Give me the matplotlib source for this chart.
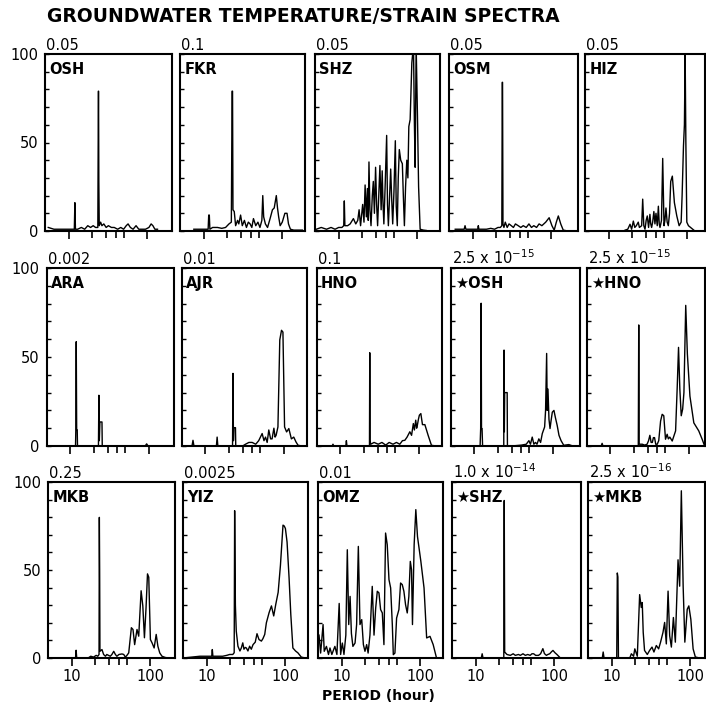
import matplotlib
matplotlib.use("Agg")
import matplotlib.pyplot as plt
from matplotlib.ticker import FixedLocator, NullFormatter

# ---- spectra: (period [h], relative amplitude) ----
osh = [(5.5, 2), (6.5, 1), (8, 1), (9.5, 1), (11, 1), (11.8, 1), (12.0, 16), (12.2, 1),
       (13, 1), (14.5, 2), (16, 1), (17.5, 3), (19, 2), (20.5, 3), (22, 2), (23.5, 2),
       (23.9, 79), (24.0, 79), (24.2, 28), (24.5, 3), (25.5, 5), (26.5, 3), (28, 4),
       (30, 2), (32, 3), (35, 2), (38, 2), (42, 1), (46, 2), (50, 1), (54, 3), (57, 4),
       (61, 2), (66, 1), (72, 3), (78, 1), (85, 1), (95, 1), (105, 2), (112, 4),
       (118, 3), (125, 1), (135, 1)]
fkr = [(7.5, 1), (9, 1), (10.5, 1), (11.4, 1), (11.6, 9), (11.8, 9), (12, 1), (13, 2),
       (15, 2), (17, 1.5), (19, 2), (21, 4), (22.5, 5), (23, 79), (23.3, 79), (23.6, 12),
       (24.5, 11), (25.5, 3), (27, 6), (28, 4), (29.5, 9), (31, 3), (33, 6), (35, 2),
       (37, 5), (39, 4), (41, 2), (43, 7), (46, 3), (49, 5), (52, 2), (55, 6), (56.5, 20),
       (58, 8), (61, 4), (65, 2), (70, 7), (75, 12), (79, 13), (84, 20), (87, 13),
       (90, 8), (94, 3), (100, 5), (108, 10), (115, 10), (120, 4), (127, 1), (140, 0.5),
       (180, 0.5)]
shz = [(5.2, 1), (6, 2), (7, 1), (8, 2), (9, 1), (10, 2), (11, 2), (11.6, 3), (11.8, 17),
       (12.0, 3), (13, 3), (14, 4), (15.4, 7), (16.5, 4), (17.5, 6), (18.2, 12), (19, 3),
       (20.2, 15), (21, 5), (21.7, 26), (22.5, 8), (23.2, 24), (23.8, 6), (24.3, 39),
       (25, 12), (25.8, 3), (26.8, 20), (27.6, 28), (28.5, 10), (29.5, 36), (30.4, 15),
       (31.3, 3), (32.5, 22), (33.5, 37), (34.7, 12), (35.8, 34), (36.7, 15), (37.6, 4),
       (39, 25), (40.8, 54), (41.8, 15), (42.9, 3), (44.5, 20), (45.9, 35), (47.3, 18),
       (48.7, 4), (50.5, 22), (52.6, 51), (54, 14), (55.7, 3), (57.3, 30), (59.1, 46),
       (61.6, 40), (64.6, 38), (66.5, 20), (68.6, 3), (71, 25), (73.6, 40), (76, 30),
       (78.1, 59), (81.2, 63), (85.3, 95), (89.5, 105), (92, 60), (94, 36), (96.8, 105),
       (100.6, 65), (104, 25), (108.8, 1), (119.6, 0.5), (130, 0.3)]
osm = [(6, 1), (7, 1), (7.8, 1), (8.0, 3), (8.2, 1), (9, 1), (10, 1), (11.6, 1), (11.8, 3),
       (12.0, 1), (13, 1), (15, 1), (17, 1.5), (19, 1), (21, 2), (22.5, 2), (23.5, 3),
       (23.8, 84), (24.0, 84), (24.3, 4), (25, 2), (26, 5), (27.5, 2), (29, 4), (31, 3),
       (33, 2), (35, 4), (38, 3), (41, 2), (44, 3), (48, 2), (52, 4), (56, 2), (60, 3),
       (65, 2), (70, 4), (76, 3), (85, 5), (94, 7.5), (102, 3), (109, 0.5), (116, 5),
       (123, 8.5), (132, 4), (142, 0.5), (150, 0.3)]
hiz = [(16.2, 0.5), (17.5, 1), (18.7, 3.8), (19.6, 1), (20.6, 5.6), (21.5, 2), (22.5, 3),
       (23.8, 5), (24.6, 2), (26.3, 3), (27.1, 18), (28, 3), (29, 1), (30, 6), (31, 8.5),
       (32.2, 2), (33.5, 9.4), (34.3, 4), (35.2, 2), (36.3, 5), (37.6, 11), (38.8, 4),
       (40, 10), (41.5, 3), (42.9, 14), (44, 4), (45, 2), (47, 6), (48.7, 41), (50.6, 3),
       (52, 6), (53.6, 13), (55.5, 5), (57.4, 3), (59.5, 10), (61.6, 28), (64.6, 31),
       (68.6, 16), (73.6, 8.5), (78.8, 3), (83.6, 5), (86, 20), (89.5, 48), (92, 60),
       (94, 100), (96, 50), (98.7, 5), (103.5, 3), (125, 0), (140, 0)]
ara = [(5, 0), (11.7, 0), (11.8, 9), (11.95, 58.6), (12.1, 9), (12.3, 9), (12.4, 0),
       (22.9, 0), (23.2, 28.5), (23.5, 3), (23.9, 13.5), (25.4, 13.5), (25.6, 0), (90, 0),
       (94, 1.2), (98, 0), (200, 0)]
ajr = [(5, 0), (6.8, 0), (7.0, 3.2), (7.2, 0), (13.9, 0), (14.2, 5), (14.5, 0), (22.3, 0),
       (22.6, 40.8), (22.9, 3), (23.2, 10.3), (24.3, 10.3), (24.5, 0), (30, 0), (32.6, 1),
       (36, 2), (39.6, 2), (44, 1), (48, 3), (53.1, 7), (56, 3), (58.6, 5), (61.5, 2),
       (64.5, 9), (68, 4), (71, 4), (74.9, 10), (77.5, 5), (79.9, 6), (84.3, 10.7),
       (89, 59.6), (93.6, 65), (97.6, 64), (102.4, 10.7), (108.7, 7.9), (116, 9.8),
       (125, 4), (134, 5), (143, 2.3), (152, 0.4), (170, 0)]
hno = [(5, 0), (7.9, 0), (8.1, 1), (8.3, 0), (11.8, 0), (12.0, 3), (12.2, 0), (23.6, 0),
       (23.8, 52.4), (24.0, 3), (24.5, 1), (27, 2), (30.5, 1), (34, 2), (38, 0.5), (42, 2),
       (47, 1), (52, 2), (57.4, 1), (62, 3), (66.5, 3.2), (71, 5), (77, 8), (81, 6),
       (85.3, 12.6), (88, 9), (91.5, 14.5), (94, 10), (96, 11.7), (99, 15), (101.8, 17.3),
       (106.3, 18.2), (111.5, 12), (119.6, 12), (131.6, 6), (145, 0.4), (165, 0)]
s_osh = [(5, 0), (11.9, 0), (12.1, 9.8), (12.27, 80.2), (12.4, 9.8), (12.6, 9.8),
         (12.8, 0), (23.8, 0), (24.0, 53.9), (24.2, 8), (24.45, 30), (26.3, 30), (26.5, 0),
         (30, 0), (40, 0.5), (46, 1), (49.7, 3), (52, 1), (54.8, 5), (57.5, 1), (60.3, 2),
         (63, 1), (66.5, 4), (70, 2), (73.6, 7), (78.8, 10.7), (81, 20), (83.6, 52),
         (85, 20), (86.9, 32), (89.5, 15), (92.3, 9.8), (95, 14), (98.7, 19), (103.5, 20),
         (108, 16), (113.8, 11.6), (120, 6), (127.6, 3), (138, 0.4), (160, 0.8), (180, 0)]
s_hno = [(5, 0), (7.7, 0), (7.9, 1.5), (8.1, 0), (22.8, 0), (23.1, 68), (23.4, 1),
         (25.6, 1), (27.5, 0.5), (29.5, 1), (30.8, 3), (32, 6), (33.2, 2), (34.4, 2),
         (35.5, 4.7), (36.7, 4.7), (38, 1), (39.7, 1), (41.5, 3), (43.8, 14), (45.9, 17.8),
         (48.1, 17), (50.6, 3.8), (53.1, 6.6), (55, 4), (57.4, 5), (61.6, 2.8), (68, 8.5),
         (71.3, 33), (74.1, 55.4), (77, 32), (80.2, 17), (83.6, 20.7), (86.8, 30),
         (91.5, 79), (96, 51.7), (103.5, 28), (116, 13), (134, 8.5), (148, 3.8),
         (158, 0.4), (165, 0)]
mkb = [(5, 0), (11.2, 0), (11.4, 4.4), (11.6, 0), (16.2, 0), (17.5, 1), (19, 0.5),
       (20.5, 1.5), (21.5, 1), (22.3, 2), (22.5, 79.9), (22.7, 50), (22.9, 3.8),
       (24.3, 4.8), (25.5, 2), (26.9, 1), (28, 2), (29.4, 1.5), (31, 1), (32.5, 2),
       (34.3, 3.8), (36, 2), (37.6, 1), (40, 2), (43.7, 2.3), (46, 2), (48.2, 0.5),
       (50.5, 1.5), (53.2, 2.9), (57.5, 17.2), (60.3, 16.2), (63.3, 7.6), (67.8, 16.2),
       (71.3, 12.4), (76.5, 38.2), (80.4, 29.6), (84.3, 11.5), (88.4, 28.7), (92.2, 47.8),
       (95.7, 45.9), (100.4, 10.5), (105.4, 8.6), (112, 5.7), (119, 13.4), (125, 6.7),
       (132, 2.9), (141, 1), (155, 0.3), (170, 0)]
yiz = [(5, 0), (8.2, 1), (11.6, 1), (11.8, 4.8), (12.0, 1), (14, 1), (16, 1), (18, 1.5),
       (19.6, 2), (21.5, 2), (22.4, 3), (22.7, 83.7), (23.2, 30), (23.8, 15.3), (25, 6.7),
       (26.5, 4), (27.6, 5.7), (28.8, 8.6), (29.8, 5), (31, 6), (32, 5.7), (33.5, 4),
       (35.2, 6.7), (37, 5), (38.9, 7.6), (41.5, 9), (43.7, 13.8), (46.3, 10.5),
       (49.7, 9.6), (52, 11), (54.8, 13.4), (57.5, 20), (62.3, 25.8), (66.7, 29.6),
       (71.3, 23.9), (75.8, 30.6), (81.2, 37.3), (86.8, 52.6), (93.6, 75.5), (97, 75),
       (100.4, 73.6), (105.4, 65.9), (111.7, 45.9), (117.6, 24.8), (125, 5.7), (135, 4),
       (145, 2.9), (160, 0.5), (180, 0)]
omz = [(5.15, 13), (5.4, 2.8), (5.8, 19), (6.0, 3.8), (6.4, 6.6), (6.8, 2), (7.1, 5.7),
       (7.5, 2), (7.9, 4.7), (8.2, 6.6), (8.7, 2), (9.3, 31), (9.7, 2), (10.2, 8.5),
       (10.7, 2), (11.3, 13), (11.8, 61.5), (12.3, 19), (12.8, 35), (13.3, 14), (13.9, 6.6),
       (14.8, 8.5), (15.5, 19), (16.3, 63.4), (17.1, 19), (18, 21.8), (18.9, 7.6),
       (19.8, 3.8), (20.8, 7.6), (21.7, 2.8), (22.9, 13), (24.5, 40.7), (25.8, 13),
       (27.1, 28.4), (28.4, 37.9), (29.8, 37), (31.3, 27.5), (32.9, 25.6), (34.5, 7.6),
       (36.2, 71), (38, 64.4), (40, 44.5), (42, 39.8), (44.1, 19), (45.4, 1.9),
       (47.6, 2.8), (50, 22.7), (53.5, 27.5), (56.2, 42.6), (59, 41.7), (61.9, 37.9),
       (65, 30.3), (68.3, 25.6), (71.6, 35), (74.7, 54.9), (77.4, 50.2), (79.6, 19),
       (83.6, 64.4), (87.8, 84.3), (92.2, 69), (101.7, 55), (111.7, 39.8), (120.6, 11.4),
       (133, 12.3), (146, 7.6), (161, 0)]
s_shz = [(5, 0), (11.8, 0), (12.1, 2.4), (12.4, 0), (22.8, 0), (23.1, 89.5), (23.4, 3.4),
         (25, 2), (27.6, 1.5), (30, 2.4), (32, 1.5), (35, 2), (37, 1.5), (40, 2.4),
         (42.9, 1.5), (46, 2), (49.4, 1.5), (52, 2.4), (54.7, 2.4), (58, 1.5), (63.1, 1.5),
         (67, 2.4), (71.6, 5.3), (75, 2.5), (79.4, 1.5), (83, 2), (87.5, 2.4), (92, 3.5),
         (96.3, 4.3), (102, 3), (108.7, 1.9), (119.6, 0), (200, 0)]
s_mkb = [(5, 0), (7.6, 0), (7.8, 3.4), (8.0, 0), (11.6, 0), (11.8, 48.3), (12.0, 46),
         (12.2, 0), (17, 0), (17.8, 2.4), (19, 1), (19.7, 5.2), (21.2, 1), (22.7, 36),
         (23.8, 28.7), (24.5, 31.5), (25.2, 14.6), (26.2, 4.3), (28.4, 2), (30.4, 4.3),
         (32.6, 6.2), (34.5, 3.4), (37, 7.1), (39.6, 5.2), (41.9, 9), (45, 14.6),
         (47.2, 20.2), (49.6, 8), (52.2, 38), (54.7, 12.7), (57.5, 6.2), (61, 23),
         (64.6, 9), (69.9, 55.8), (73.3, 40.8), (77, 95), (81.2, 40.8), (85.3, 9),
         (91.5, 27.7), (95.9, 29.6), (101.7, 22), (108.7, 5.2), (116, 0.6), (130, 0)]

names = [["OSH", "FKR", "SHZ", "OSM", "HIZ"],
         ["ARA", "AJR", "HNO", "\u2605OSH", "\u2605HNO"],
         ["MKB", "YIZ", "OMZ", "\u2605SHZ", "\u2605MKB"]]
scales = [["0.05", "0.1", "0.05", "0.05", "0.05"],
          ["0.002", "0.01", "0.1", "2.5 x 10$^{-15}$", "2.5 x 10$^{-15}$"],
          ["0.25", "0.0025", "0.01", "1.0 x 10$^{-14}$", "2.5 x 10$^{-16}$"]]
spectra = [[osh, fkr, shz, osm, hiz],
           [ara, ajr, hno, s_osh, s_hno],
           [mkb, yiz, omz, s_shz, s_mkb]]

W, H = 706, 713
PX_DECADE = 78.6
col_left = [45, 180, 315, 449, 585]
col_width = [127, 125, 125, 129, 120]
row_top = [54, 268, 482]
row_bot = [231, 446, 658]
row_shift = [0, 1.5, 3]

fig = plt.figure(figsize=(W / 100, H / 100), dpi=100)

for r in range(3):
    for c in range(5):
        left = col_left[c] + row_shift[r]
        w = col_width[c] if c < 4 else 705 - left
        h = row_bot[r] - row_top[r]
        ax = fig.add_axes([left / W, 1 - row_bot[r] / H, w / W, h / H])
        data = spectra[r][c]
        ax.plot([p for p, a in data], [a for p, a in data], color="black", lw=1.0)
        ax.set_xscale("log")
        ax.set_xlim(5, 5 * 10 ** (w / PX_DECADE))
        ax.set_ylim(0, 100)

        for s in ax.spines.values():
            s.set_linewidth(1.5)

        ax.set_yticks(range(0, 101, 10))
        ax.set_yticklabels(["0", "", "", "", "", "50", "", "", "", "", "100"] if c == 0 else [])
        ax.tick_params(axis="y", direction="in", length=3, width=1, labelsize=10.5, pad=5)

        ax.xaxis.set_major_locator(FixedLocator([10, 100]))
        ax.xaxis.set_minor_locator(FixedLocator([20, 30, 40, 50]))
        ax.xaxis.set_minor_formatter(NullFormatter())
        ax.set_xticklabels(["10", "100"] if r == 2 else [])
        ax.tick_params(axis="x", which="major", direction="out", length=6, width=1.2,
                       labelsize=10.5, pad=2)
        ax.tick_params(axis="x", which="minor", direction="out", length=5, width=1.2)

        ax.text(0.035, 0.955, names[r][c], transform=ax.transAxes, ha="left", va="top",
                fontsize=10.5, fontweight="bold")
        ax.text(0.01, 1.022, scales[r][c], transform=ax.transAxes, ha="left",
                va="baseline", fontsize=10.5)

fig.text(47 / W, 1 - 16 / H, "GROUNDWATER TEMPERATURE/STRAIN SPECTRA", ha="left",
         va="center", fontsize=13.5, fontweight="bold")
fig.text(378 / W, 1 - 696 / H, "PERIOD (hour)", ha="center", va="center",
         fontsize=10, fontweight="bold")

fig.savefig("out.png", dpi=100)
